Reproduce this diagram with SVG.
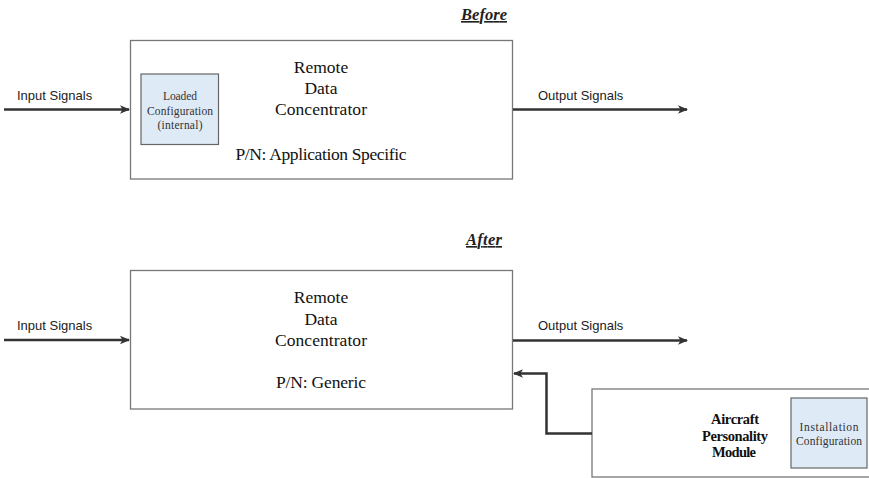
<svg xmlns="http://www.w3.org/2000/svg" width="869" height="478" viewBox="0 0 869 478">
<style>
.box{fill:#fff;stroke:#777;stroke-width:1.3}
.inner{fill:#deeaf6;stroke:#666;stroke-width:1.2}
.sans{font-family:"Liberation Sans",Arial,sans-serif;font-size:13px;fill:#222}
.serif{font-family:"Liberation Serif","Times New Roman",serif;font-size:17.5px;fill:#111;text-anchor:middle}
.small{font-family:"Liberation Serif","Times New Roman",serif;font-size:11.5px;fill:#333;text-anchor:middle}
.apm{font-family:"Liberation Serif","Times New Roman",serif;font-size:14.5px;font-weight:bold;fill:#111;text-anchor:middle}
.title{font-family:"Liberation Serif","Times New Roman",serif;font-size:16.5px;font-weight:bold;font-style:italic;fill:#222;text-decoration:underline}
.conn{fill:none;stroke:#333;stroke-width:2.5}
</style>
<defs>
<marker id="ah" markerWidth="10" markerHeight="10" viewBox="0 0 10 10" refX="9" refY="5" orient="auto" markerUnits="userSpaceOnUse">
<path d="M0,0.8 L10,5 L0,9.2 L2.5,5 Z" fill="#333"/>
</marker>
</defs>
<rect width="869" height="478" fill="#fff"/>
<text class="title" x="461" y="20" textLength="46">Before</text>
<text class="title" x="466" y="245" textLength="36">After</text>

<g id="rdc-before">
<rect class="box" x="130.5" y="40.5" width="382" height="138.5"/>
<text class="serif" x="321" y="73">Remote</text>
<text class="serif" x="321" y="94">Data</text>
<text class="serif" x="321" y="115" textLength="92">Concentrator</text>
<text class="serif" x="321" y="160" textLength="171">P/N: Application Specific</text>
</g>
<g id="loaded-config">
<rect class="inner" x="141" y="74" width="77.5" height="70.5"/>
<text class="small" x="180" y="100" textLength="34">Loaded</text>
<text class="small" x="180" y="114.5" textLength="66">Configuration</text>
<text class="small" x="180" y="129" textLength="45">(internal)</text>
</g>

<g id="rdc-after">
<rect class="box" x="130.5" y="270.5" width="382" height="138.5"/>
<text class="serif" x="321" y="303">Remote</text>
<text class="serif" x="321" y="325">Data</text>
<text class="serif" x="321" y="346" textLength="92">Concentrator</text>
<text class="serif" x="321" y="388" textLength="90">P/N: Generic</text>
</g>

<g id="apm">
<rect class="box" x="592" y="389" width="290" height="88"/>
<text class="apm" x="735" y="424" textLength="48">Aircraft</text>
<text class="apm" x="735" y="440.5" textLength="66">Personality</text>
<text class="apm" x="734" y="457" textLength="44">Module</text>
</g>
<g id="install-config">
<rect class="inner" x="791" y="398" width="76" height="70"/>
<text class="small" x="829" y="431" textLength="59">Installation</text>
<text class="small" x="829" y="444.5" textLength="66">Configuration</text>
</g>

<g id="labels">
<text class="sans" x="17" y="100">Input Signals</text>
<text class="sans" x="538" y="100">Output Signals</text>
<text class="sans" x="17" y="330">Input Signals</text>
<text class="sans" x="538" y="330">Output Signals</text>
</g>

<g id="connectors">
<line class="conn" x1="4" y1="109.5" x2="129" y2="109.5" marker-end="url(#ah)"/>
<line class="conn" x1="513" y1="109.5" x2="687" y2="109.5" marker-end="url(#ah)"/>
<line class="conn" x1="4" y1="340" x2="129" y2="340" marker-end="url(#ah)"/>
<line class="conn" x1="513" y1="340.5" x2="687" y2="340.5" marker-end="url(#ah)"/>
<polyline class="conn" points="592,433.5 546.5,433.5 546.5,373.5 514,373.5" marker-end="url(#ah)"/>
</g>
</svg>
